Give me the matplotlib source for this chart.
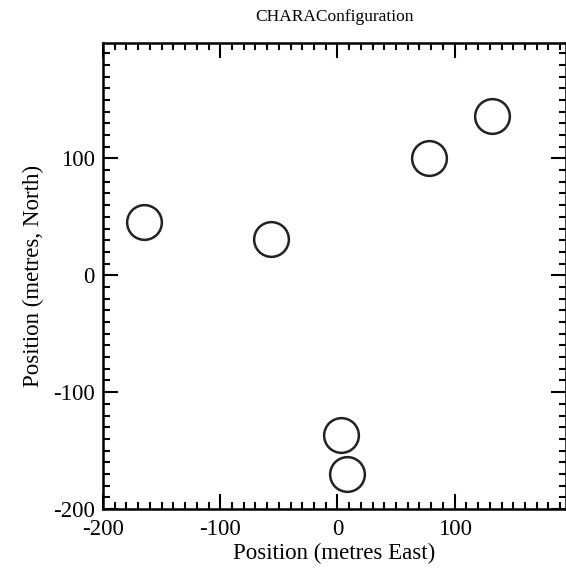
import matplotlib
matplotlib.use('Agg')
import matplotlib.pyplot as plt
from matplotlib.ticker import MultipleLocator

# telescope positions (metres)
east = [-165, -57, 78, 132, 3, 8]
north = [46, 31, 100, 136, -137, -170]

plt.rcParams['font.family'] = ['Liberation Serif', 'DejaVu Serif']
plt.rcParams['axes.unicode_minus'] = False

fig = plt.figure(figsize=(5.66, 5.70), dpi=100)
ax = fig.add_axes([0.182, 0.107, 0.818, 0.818])

ax.plot(east, north, 'o', markersize=25, markerfacecolor='none',
        markeredgecolor='#222222', markeredgewidth=1.8)

ax.set_xlim(-200, 195)
ax.set_ylim(-200, 199)
ax.xaxis.set_major_locator(MultipleLocator(100))
ax.xaxis.set_minor_locator(MultipleLocator(10))
ax.yaxis.set_major_locator(MultipleLocator(100))
ax.yaxis.set_minor_locator(MultipleLocator(10))
ax.tick_params(which='both', direction='in', top=True, right=True,
               width=1.5, labelsize=16.5)
ax.tick_params(which='major', length=11)
ax.tick_params(which='minor', length=5)
ax.tick_params(axis='y', pad=6)
ax.tick_params(axis='x', pad=7)
for s in ax.spines.values():
    s.set_linewidth(1.8)

ax.set_xlabel('Position (metres East)', fontsize=16.5, labelpad=2)
ax.set_ylabel('Position (metres, North)', fontsize=16.5, labelpad=6)
ax.set_title('CHARAConfiguration', fontsize=12.5, pad=16)

fig.savefig('out.png', dpi=100)
